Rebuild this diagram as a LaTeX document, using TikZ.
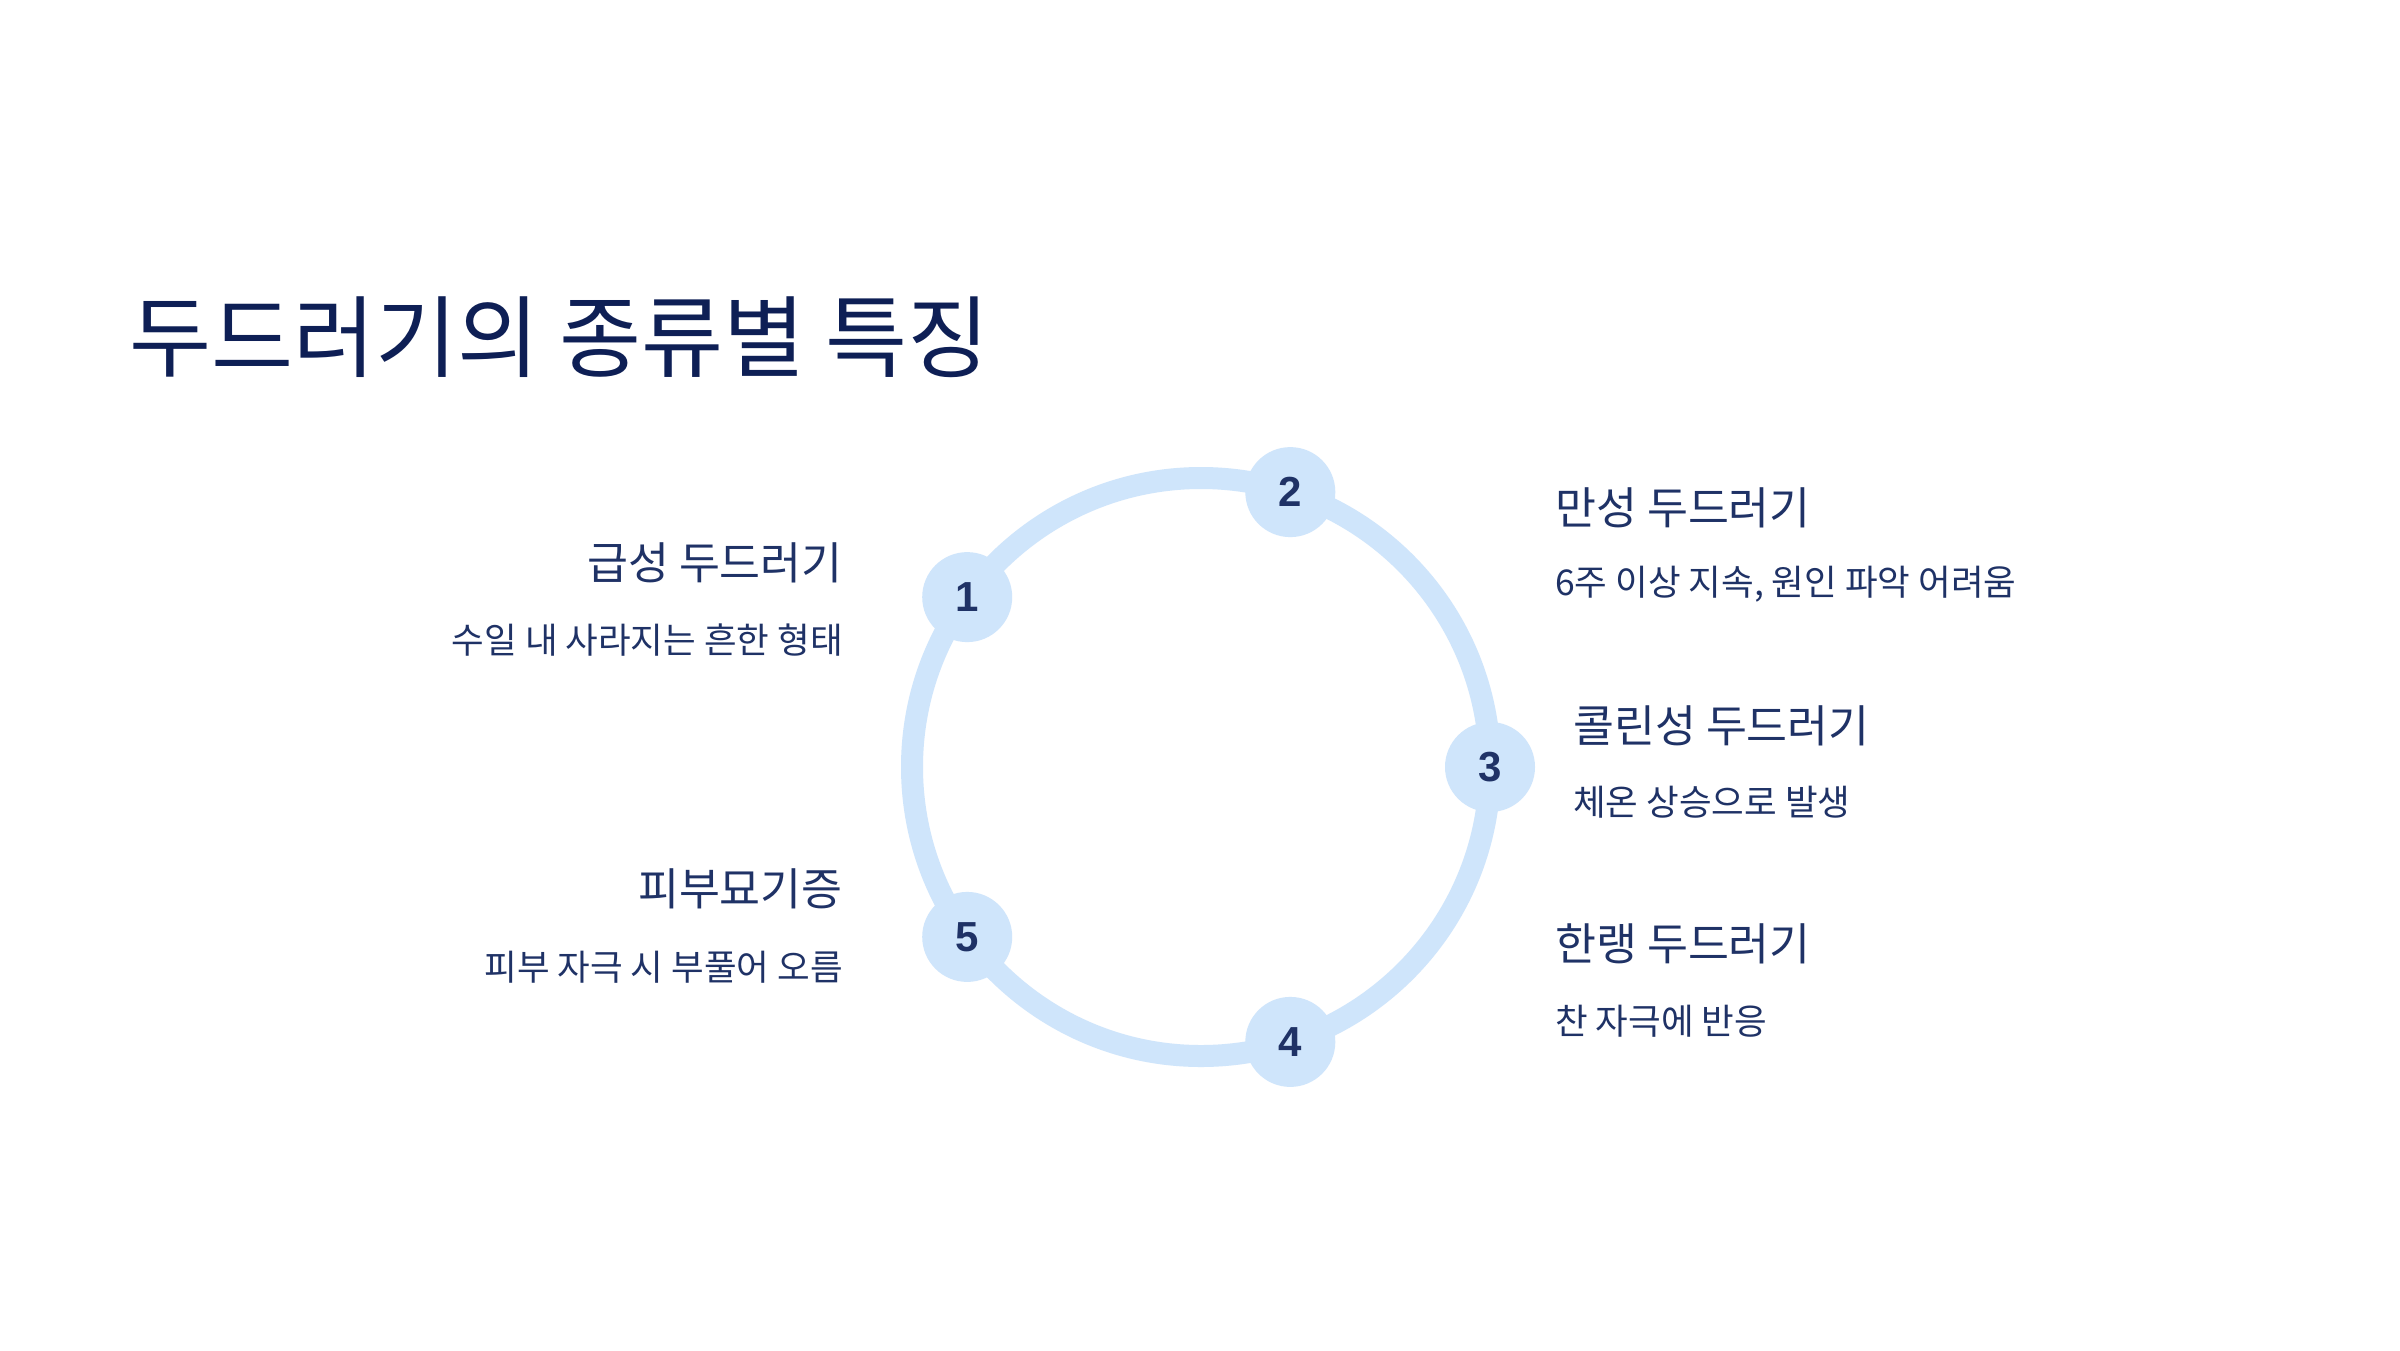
\documentclass[tikz,border=0pt]{standalone}
\usepackage{fontspec}
\setmainfont{Noto Sans CJK KR}
\newfontfamily\numfont{Liberation Sans}
\definecolor{titlecol}{HTML}{0E1F55}
\definecolor{txtcol}{HTML}{1F3266}
\definecolor{ringcol}{HTML}{CFE5FB}
\tikzset{
  headtxt/.style={font=\fontsize{44.5}{53}\selectfont, text=txtcol, inner sep=0pt},
  subtxt/.style={font=\fontsize{35.5}{43}\selectfont, text=txtcol, inner sep=0pt},
  numdot/.style={circle, fill=ringcol, minimum size=90pt, inner sep=0pt, font=\numfont\bfseries\fontsize{42}{50}\selectfont, text=txtcol},
}
\begin{document}
\begin{tikzpicture}[x=1pt,y=-1pt]
\useasboundingbox (0,0) rectangle (2400,1350);
\fill[white] (0,0) rectangle (2400,1350);
\node[anchor=west, inner sep=0pt, text=titlecol, font=\fontsize{89.2}{107}\selectfont] (title) at (129,337) {두드러기의 종류별 특징};
\coordinate (c) at (1201,767);
\draw[ringcol, line width=22pt] (c) circle[radius=289];
\node[numdot] (n1) at (967.2,597.1) {1};
\node[numdot] (n2) at (1290.3,492.1) {2};
\node[numdot] (n3) at (1490,767) {3};
\node[numdot] (n4) at (1290.3,1041.9) {4};
\node[numdot] (n5) at (967.2,936.9) {5};
% left labels
\node[headtxt, anchor=east] (h1) at (843,563) {급성 두드러기};
\node[subtxt, anchor=east] (s1) at (843,640) {수일 내 사라지는 흔한 형태};
\node[headtxt, anchor=east] (h5) at (843,889) {피부묘기증};
\node[subtxt, anchor=east] (s5) at (843,967) {피부 자극 시 부풀어 오름};
% right labels
\node[headtxt, anchor=west] (h2) at (1555,508) {만성 두드러기};
\node[subtxt, anchor=west] (s2) at (1555,584) {6주 이상 지속, 원인 파악 어려움};
\node[headtxt, anchor=west] (h3) at (1573,726) {콜린성 두드러기};
\node[subtxt, anchor=west] (s3) at (1573,802) {체온 상승으로 발생};
\node[headtxt, anchor=west] (h4) at (1555,944) {한랭 두드러기};
\node[subtxt, anchor=west] (s4) at (1555,1021) {찬 자극에 반응};
\end{tikzpicture}
\end{document}
